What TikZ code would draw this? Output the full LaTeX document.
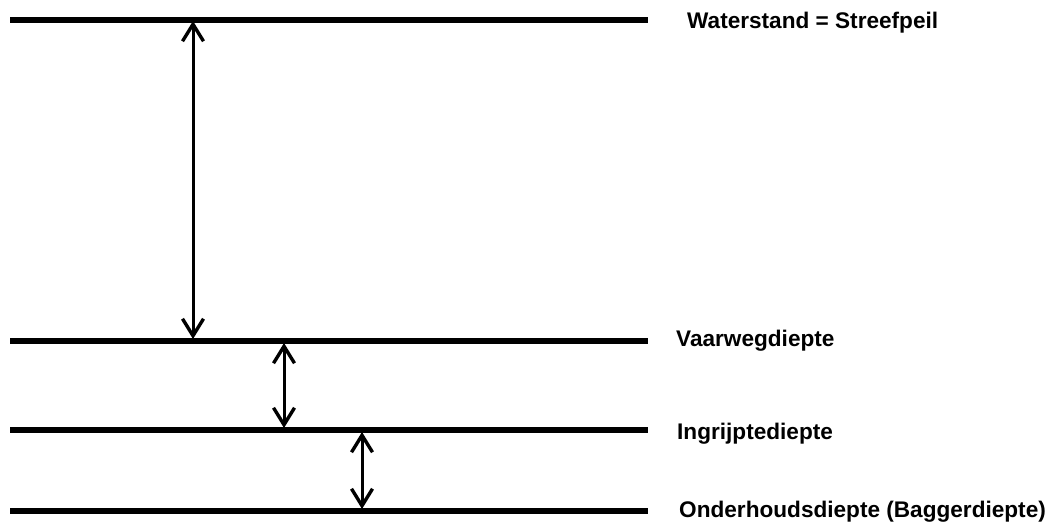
\documentclass[tikz,border=0pt]{standalone}
\usepackage{fontspec}
\setmainfont{Liberation Sans}
\usetikzlibrary{arrows.meta}
\begin{document}
\begin{tikzpicture}[x=1pt,y=-1pt,
  level/.style={line width=6.8pt},
  dim/.style={line width=3pt,{Straight Barb[length=17pt,width=21pt,line width=3.4pt]}-{Straight Barb[length=17pt,width=21pt,line width=3.4pt]}},
  lbl/.style={anchor=base west,inner sep=0pt,font=\fontsize{22.6}{26}\selectfont\bfseries}]
\useasboundingbox (0,0) rectangle (1046,522);
% levels
\coordinate (l1a) at (10,20);  \coordinate (l1b) at (648,20);
\coordinate (l2a) at (10,341); \coordinate (l2b) at (648,341);
\coordinate (l3a) at (10,430); \coordinate (l3b) at (648,430);
\coordinate (l4a) at (10,511); \coordinate (l4b) at (648,511);
\draw[level] (l1a) -- (l1b);
\draw[level] (l2a) -- (l2b);
\draw[level] (l3a) -- (l3b);
\draw[level] (l4a) -- (l4b);
% arrow end points
\coordinate (a1t) at (193,21);  \coordinate (a1b) at (193,339);
\coordinate (a2t) at (284,343); \coordinate (a2b) at (284,428);
\coordinate (a3t) at (362,432); \coordinate (a3b) at (362,509);
\draw[dim] (a1t) -- (a1b);
\draw[dim] (a2t) -- (a2b);
\draw[dim] (a3t) -- (a3b);
% labels
\node[lbl] (t1) at (687,28) {Waterstand = Streefpeil};
\node[lbl] (t2) at (676,346) {Vaarwegdiepte};
\node[lbl] (t3) at (677,439) {Ingrijptediepte};
\node[lbl] (t4) at (679,517) {Onderhoudsdiepte (Baggerdiepte)};
\end{tikzpicture}
\end{document}
